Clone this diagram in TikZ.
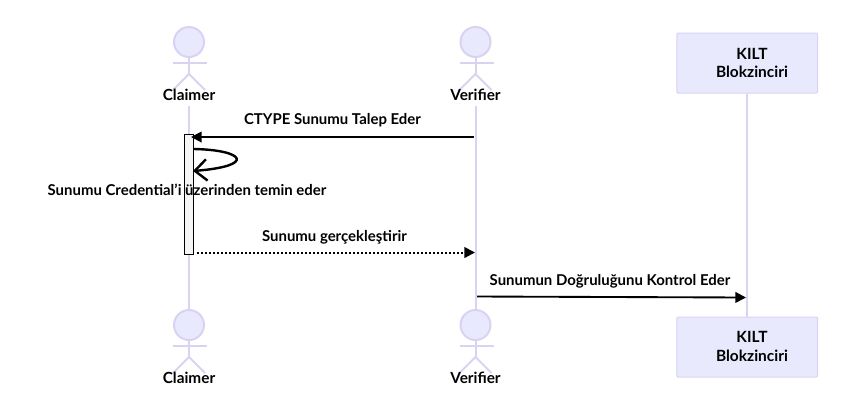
\documentclass[tikz,border=0pt]{standalone}
\usepackage{fontspec}
\setmainfont{Lato}
\usetikzlibrary{arrows.meta}
\definecolor{actorfill}{HTML}{E9E9FD}
\definecolor{actorline}{HTML}{D9D3F3}
\tikzset{
  x=0.75pt,y=-0.75pt,
  lifeline/.style={draw=actorline,line width=1.45pt},
  head/.style={circle,draw=actorline,fill=actorfill,line width=1.5pt,minimum size=22.5pt,inner sep=0pt},
  limb/.style={draw=actorline,line width=1.5pt},
  lbl/.style={font=\bfseries\fontsize{11.2pt}{13pt}\selectfont,text=black,inner sep=0pt,anchor=base},
  actorlbl/.style={lbl,font=\bfseries\fontsize{11.5pt}{13pt}\selectfont},
  partlbl/.style={lbl,font=\bfseries\fontsize{11.6pt}{13pt}\selectfont},
  part/.style={draw=actorline,fill=actorfill,line width=0.75pt,minimum width=105.5pt,minimum height=45pt,inner sep=0pt,rounded corners=0.8pt},
  msg/.style={draw=black,line width=1.4pt,-{Triangle[length=8pt,width=8pt]}},
  dottedmsg/.style={draw=black,line width=1.5pt,dash pattern=on 1.5pt off 1.5pt,-{Triangle[length=8pt,width=8pt]}},
  selfmsg/.style={draw=black,line width=1.8pt,-{Straight Barb[length=9pt,width=16pt,line width=1.8pt]}},
  activation/.style={draw=black,fill=black!4,line width=0.7pt,minimum width=6.75pt,minimum height=89.5pt,inner sep=0pt}
}
\newcommand{\stick}[3]{%
  \node[head] (#1head) at (#2,#3) {};
  \coordinate (#1hip) at (#2,#3+32);
  \draw[limb] (#1head.south) -- (#1hip);
  \draw[limb] (#2-16,#3+21) -- (#2+18,#3+21);
  \draw[limb] (#2-16,#3+48) -- (#1hip) -- (#2+16,#3+48);
}
\begin{document}
\begin{tikzpicture}
\useasboundingbox (0,0) rectangle (852,405);
% lifelines
\coordinate (ctop) at (189,106); \coordinate (cbot) at (189,310);
\coordinate (vtop) at (475.9,106); \coordinate (vbot) at (475.9,310);
\node[part] (ktop) at (747.2,63) {};
\node[part] (kbot) at (747.2,347) {};
\draw[lifeline] (ctop) -- (cbot);
\draw[lifeline] (vtop) -- (vbot);
\draw[lifeline] (ktop) -- (kbot);
% actors
\stick{ct}{189}{42}
\stick{vt}{475.5}{42}
\stick{cb}{189}{325}
\stick{vb}{475.5}{325}
\node[actorlbl] (ctl) at (189,100) {Claimer};
\node[actorlbl] (vtl) at (475.5,100) {Verifier};
\node[actorlbl] (cbl) at (189,383) {Claimer};
\node[actorlbl] (vbl) at (475.5,383) {Verifier};
\node[partlbl] (k1) at (752,59) {KILT};
\node[partlbl] (k2) at (752,77) {Blokzinciri};
\node[partlbl] (k3) at (752,342) {KILT};
\node[partlbl] (k4) at (752,361) {Blokzinciri};
% activation
\node[activation] (act) at (188.5,194.5) {};
% messages
\coordinate (m1s) at (474,137); \coordinate (m1e) at (191,137);
\draw[msg] (m1s) -- (m1e);
\node[lbl] (m1l) at (332.5,124) {CTYPE Sunumu Talep Eder};
\coordinate (sls) at (194,149); \coordinate (sle) at (193,171);
\draw[selfmsg] (sls) .. controls (245,150) and (256,166) .. (sle);
\node[lbl] (m2l) at (187,195) {Sunumu Credential’i üzerinden temin eder};
\coordinate (m3s) at (197,252.5); \coordinate (m3e) at (475,252.5);
\draw[dottedmsg] (m3s) -- (m3e);
\node[lbl] (m3l) at (334.5,241) {Sunumu gerçekleştirir};
\coordinate (m4s) at (477,296.5); \coordinate (m4e) at (746,297.5);
\draw[msg] (m4s) -- (m4e);
\node[lbl] (m4l) at (610,285) {Sunumun Doğruluğunu Kontrol Eder};
\end{tikzpicture}
\end{document}
